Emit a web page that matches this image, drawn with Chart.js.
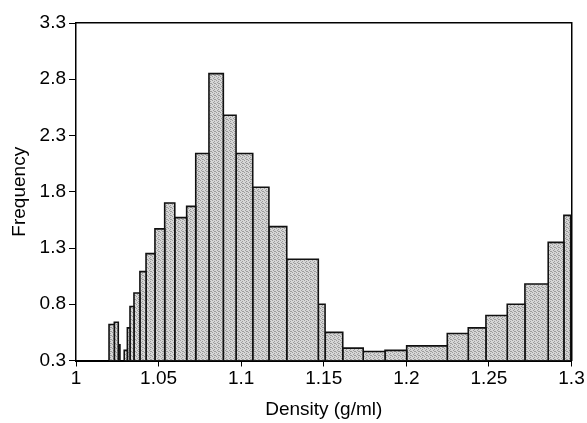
<!DOCTYPE html>
<html>
<head>
<meta charset="utf-8">
<script src="https://cdn.jsdelivr.net/npm/chart.js@4/dist/chart.umd.min.js"></script>
<style>
  html, body { margin: 0; padding: 0; background: #fff; }
  #wrap { width: 587px; height: 423px; }
</style>
</head>
<body>
<div id="wrap"><canvas id="histChart" width="587" height="423"></canvas></div>
<script>
// bin edges (g/ml) and frequency
const binLeft  = [1.0200, 1.0232, 1.0256, 1.0292, 1.0311, 1.0327, 1.0351, 1.0387, 1.0424, 1.0478, 1.0537,
                  1.0598, 1.0670, 1.0725, 1.0805, 1.0892, 1.0969, 1.1070, 1.1168, 1.1276, 1.1467, 1.1508,
                  1.1615, 1.1739, 1.1871, 1.2002, 1.2248, 1.2375, 1.2482, 1.2611, 1.2718, 1.2859, 1.2954];
const binRight = [1.0232, 1.0256, 1.0266, 1.0311, 1.0327, 1.0351, 1.0387, 1.0424, 1.0478, 1.0537, 1.0598,
                  1.0670, 1.0725, 1.0805, 1.0892, 1.0969, 1.1070, 1.1168, 1.1276, 1.1467, 1.1508, 1.1615,
                  1.1739, 1.1871, 1.2002, 1.2248, 1.2375, 1.2482, 1.2611, 1.2718, 1.2859, 1.2954, 1.2995];
const freq     = [0.62, 0.64, 0.44, 0.39, 0.59, 0.78, 0.90, 1.09, 1.25, 1.47, 1.70,
                  1.57, 1.67, 2.14, 2.85, 2.48, 2.14, 1.84, 1.49, 1.20, 0.80, 0.55,
                  0.41, 0.38, 0.39, 0.43, 0.54, 0.59, 0.70, 0.80, 0.98, 1.35, 1.59];

const xTicks = [1, 1.05, 1.1, 1.15, 1.2, 1.25, 1.3];
const yTicks = [0.3, 0.8, 1.3, 1.8, 2.3, 2.8, 3.3];
const BASE = 0.3;

// 网点灰色填充 (stippled gray like the scan)
function makeStipple() {
    const c = document.createElement('canvas');
    c.width = 4; c.height = 4;
    const g = c.getContext('2d');
    g.fillStyle = '#d6d6d6';
    g.fillRect(0, 0, 4, 4);
    g.fillStyle = '#9c9c9c';
    [[0, 0], [2, 1], [1, 2], [3, 3], [2, 3]].forEach(p => g.fillRect(p[0], p[1], 1, 1));
    return g.createPattern(c, 'repeat');
}
const stipple = makeStipple();

// one outline per bin, drawn through the x/y scales
const datasets = freq.map((f, i) => ({
    data: [
        {x: binLeft[i], y: BASE},
        {x: binLeft[i], y: f},
        {x: binRight[i], y: f},
        {x: binRight[i], y: BASE}
    ],
    borderColor: '#111',
    borderWidth: 1.6,
    backgroundColor: stipple,
    fill: {value: BASE},
    pointRadius: 0,
    tension: 0
}));

const font = {family: '"Liberation Sans", Arial, sans-serif', size: 19};

const config = {
    type: 'line',
    data: {datasets: datasets},
    options: {
        responsive: false,
        animation: false,
        layout: {padding: 0},
        plugins: {
            legend: {display: false},
            tooltip: {enabled: false}
        },
        scales: {
            x: {
                type: 'linear',
                min: 1, max: 1.3,
                z: 1, // 底线画在柱子上面
                afterBuildTicks: axis => { axis.ticks = xTicks.map(v => ({value: v})); },
                afterFit: axis => { axis.height = 62.5; },
                ticks: {
                    color: '#000', font: font, padding: 1, maxRotation: 0,
                    callback: v => String(parseFloat(v.toFixed(2)))
                },
                grid: {drawOnChartArea: false, tickLength: 6, color: '#000'},
                border: {display: true, color: '#000', width: 2},
                title: {display: true, text: 'Density (g/ml)', color: '#000', font: font, padding: {top: 0, bottom: 2}}
            },
            y: {
                type: 'linear',
                min: 0.3, max: 3.3,
                afterBuildTicks: axis => { axis.ticks = yTicks.map(v => ({value: v})); },
                afterFit: axis => { axis.width = 76; },
                ticks: {
                    color: '#000', font: font, padding: 3,
                    callback: v => String(parseFloat(v.toFixed(1)))
                },
                grid: {drawOnChartArea: false, tickLength: 7, color: '#000'},
                border: {display: true, color: '#000', width: 1.5},
                title: {display: true, text: 'Frequency', color: '#000', font: font, padding: {top: 8, bottom: 0}}
            },
            xTop: {
                type: 'linear', position: 'top', min: 1, max: 1.3,
                afterFit: axis => { axis.height = 23; },
                ticks: {display: false},
                grid: {display: false, drawTicks: false},
                border: {display: true, color: '#000', width: 1.5}
            },
            yRight: {
                type: 'linear', position: 'right', min: 0.3, max: 3.3,
                z: 1,
                afterFit: axis => { axis.width = 15.5; },
                ticks: {display: false},
                grid: {display: false, drawTicks: false},
                border: {display: true, color: '#000', width: 1.5}
            }
        }
    }
};

new Chart(document.getElementById('histChart'), config);
</script>
</body>
</html>
